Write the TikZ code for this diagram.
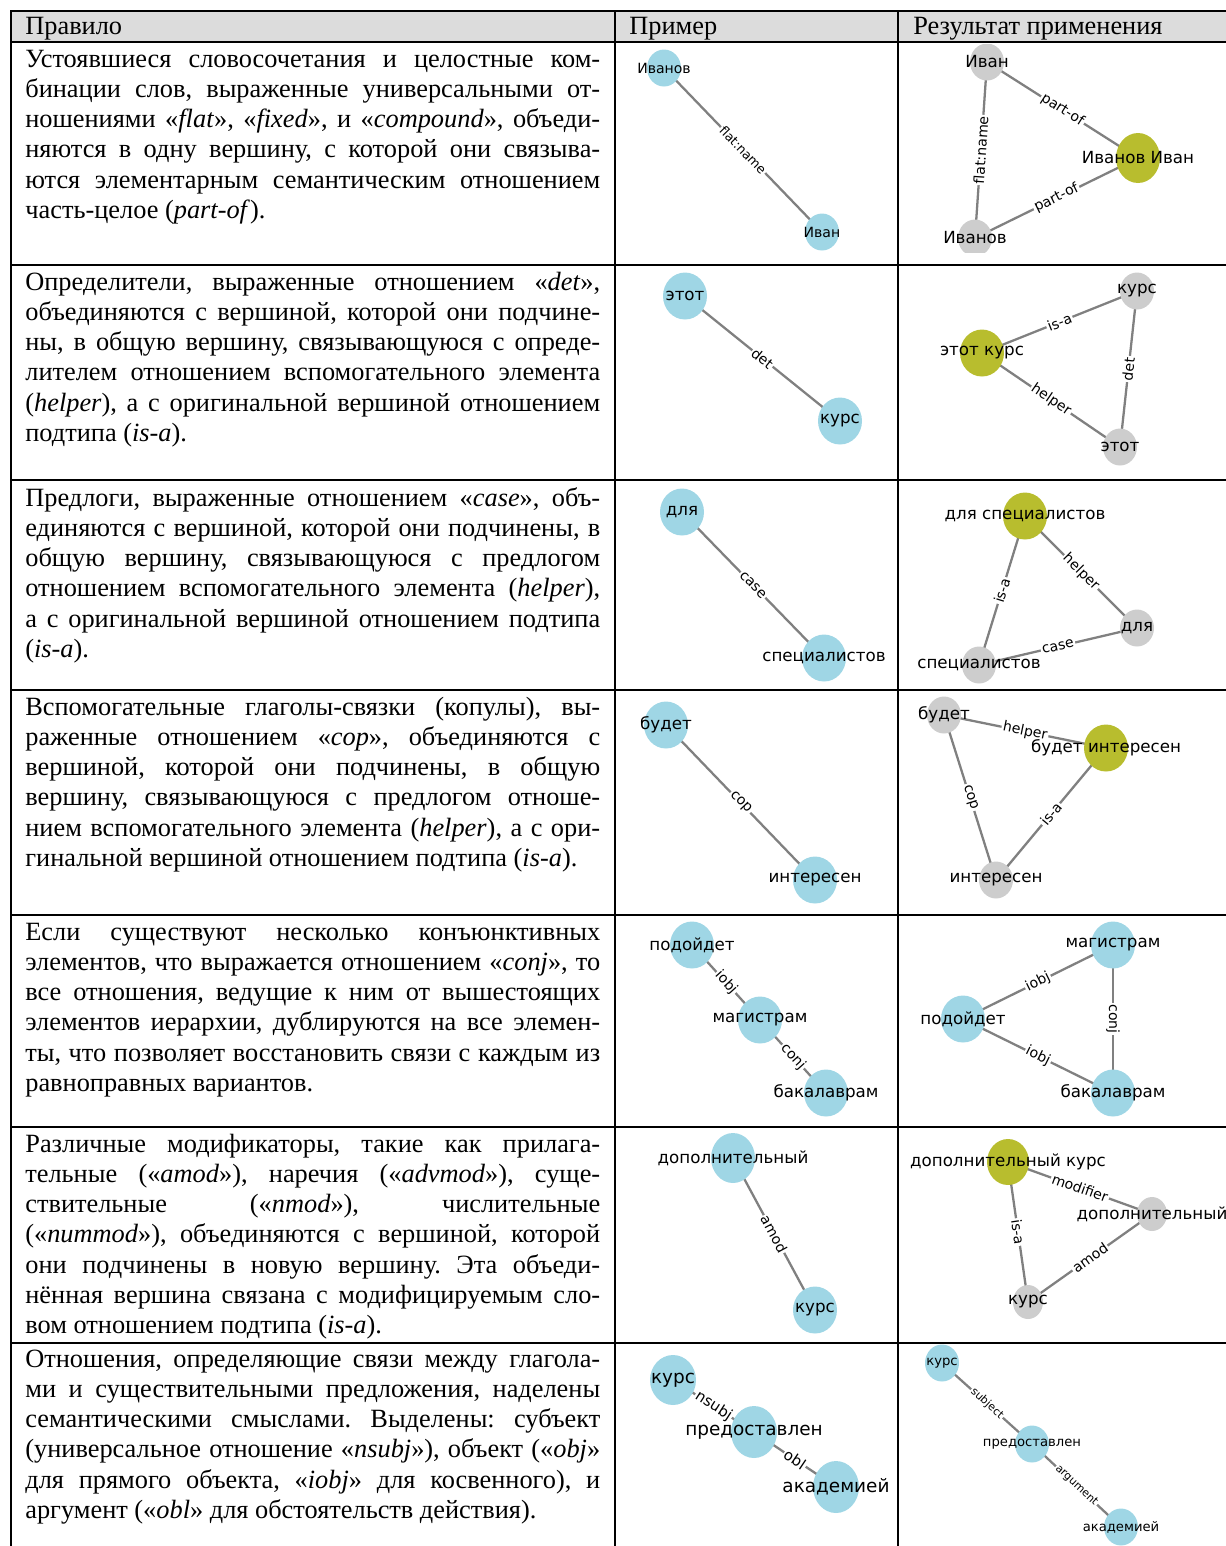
\documentclass[tikz,border=0pt]{standalone}
\usepackage{fontspec}
\setmainfont{Liberation Serif}
\newfontfamily\graphfont{DejaVu Sans}
\usetikzlibrary{shapes.geometric,backgrounds}

\hyphenpenalty=10000
\exhyphenpenalty=10000
\tolerance=10000
\frenchspacing
\newcommand{\vtext}[1]{\makebox[0pt]{#1}}

\begin{document}
\begin{tikzpicture}[x=0.02cm, y=-0.02cm]

  \definecolor{node_blue}{RGB}{159,214,229}
  \definecolor{node_gray}{RGB}{205,205,205}
  \definecolor{node_olive}{RGB}{184,189,46}
  \definecolor{edge_gray}{RGB}{128,128,128}
  \definecolor{head_gray}{RGB}{220,220,220}

  \tikzstyle{vertex} = [ellipse, inner sep=0pt, minimum width=0.88cm, minimum height=0.94cm, font=\graphfont\fontsize{9.5}{11}\selectfont]
  \tikzstyle{small vertex} = [vertex, minimum width=0.68cm, minimum height=0.74cm]
  \tikzstyle{link} = [draw=edge_gray, line width=1.3pt]
  \tikzstyle{rel} = [midway, sloped, fill=white, inner sep=0.8pt, font=\graphfont\fontsize{8}{9}\selectfont]
  \tikzstyle{ruletext} = [anchor=base west, inner sep=0pt, text width=11.5cm, align=justify, font=\fontsize{15}{17.24}\selectfont]
  \tikzstyle{headtext} = [anchor=base west, inner sep=0pt, font=\fontsize{15}{17.24}\selectfont]
  \tikzstyle{grid} = [line width=1.1pt]

  \useasboundingbox (0,0) rectangle (1226,1546);

  % table
  \fill[head_gray] (11,11) rectangle (1226,42);
  \draw[grid] (1226,11) -- (11,11) -- (11,1546);
  \draw[grid] (615,11) -- (615,1546);
  \draw[grid] (898,11) -- (898,1546);
  \draw[grid] (11,42) -- (1226,42);
  \draw[grid] (11,265) -- (1226,265);
  \draw[grid] (11,480) -- (1226,480);
  \draw[grid] (11,690) -- (1226,690);
  \draw[grid] (11,915) -- (1226,915);
  \draw[grid] (11,1127) -- (1226,1127);
  \draw[grid] (11,1343) -- (1226,1343);

  \node[headtext] (h_rule) at (25,34) {Правило};
  \node[headtext] (h_example) at (629,34) {Пример};
  \node[headtext] (h_result) at (913,34) {Результат применения};

  \node[ruletext] (t1) at (25,67) {Устоявшиеся словосочетания и целостные ком-\linebreak
    бинации слов, выраженные универсальными от-\linebreak
    ношениями «\textit{flat}», «\textit{fixed}», и «\textit{compound}», объеди-\linebreak
    няются в одну вершину, с которой они связыва-\linebreak
    ются элементарным семантическим отношением\linebreak
    часть-целое (\textit{part-of}).};
  \node[ruletext] (t2) at (25,290) {Определители, выраженные отношением «\textit{det}»,\linebreak
    объединяются с вершиной, которой они подчине-\linebreak
    ны, в общую вершину, связывающуюся с опреде-\linebreak
    лителем отношением вспомогательного элемента\linebreak
    (\textit{helper}), а с оригинальной вершиной отношением\linebreak
    подтипа (\textit{is-a}).};
  \node[ruletext] (t3) at (25,506) {Предлоги, выраженные отношением «\textit{case}», объ-\linebreak
    единяются с вершиной, которой они подчинены, в\linebreak
    общую вершину, связывающуюся с предлогом\linebreak
    отношением вспомогательного элемента (\textit{helper}),\linebreak
    а с оригинальной вершиной отношением подтипа\linebreak
    (\textit{is-a}).};
  \node[ruletext] (t4) at (25,715) {Вспомогательные глаголы-связки (копулы), вы-\linebreak
    раженные отношением «\textit{cop}», объединяются с\linebreak
    вершиной, которой они подчинены, в общую\linebreak
    вершину, связывающуюся с предлогом отноше-\linebreak
    нием вспомогательного элемента (\textit{helper}), а с ори-\linebreak
    гинальной вершиной отношением подтипа (\textit{is-a}).};
  \node[ruletext] (t5) at (25,940) {Если существуют несколько конъюнктивных\linebreak
    элементов, что выражается отношением «\textit{conj}», то\linebreak
    все отношения, ведущие к ним от вышестоящих\linebreak
    элементов иерархии, дублируются на все элемен-\linebreak
    ты, что позволяет восстановить связи с каждым из\linebreak
    равноправных вариантов.};
  \node[ruletext] (t6) at (25,1152) {Различные модификаторы, такие как прилага-\linebreak
    тельные («\textit{amod}»), наречия («\textit{advmod}»), суще-\linebreak
    ствительные («\textit{nmod}»), числительные\linebreak
    («\textit{nummod}»), объединяются с вершиной, которой\linebreak
    они подчинены в новую вершину. Эта объеди-\linebreak
    нённая вершина связана с модифицируемым сло-\linebreak
    вом отношением подтипа (\textit{is-a}).};
  \node[ruletext] (t7) at (25,1367) {Отношения, определяющие связи между глагола-\linebreak
    ми и существительными предложения, наделены\linebreak
    семантическими смыслами. Выделены: субъект\linebreak
    (универсальное отношение «\textit{nsubj}»), объект («\textit{obj}»\linebreak
    для прямого объекта, «\textit{iobj}» для косвенного), и\linebreak
    аргумент («\textit{obl}» для обстоятельств действия).};

  % row 1
  \begin{scope}
    \clip (637,48) rectangle (897,251);
    \node[small vertex, fill=node_blue, font=\graphfont\fontsize{8}{9}\selectfont] (e1_ivanov) at (664,68) {\vtext{Иванов}};
    \node[small vertex, fill=node_blue, font=\graphfont\fontsize{8}{9}\selectfont] (e1_ivan) at (822,232) {\vtext{Иван}};
    \begin{scope}[on background layer]
      \draw[link] (e1_ivanov.center) -- node[rel, font=\graphfont\fontsize{7.2}{8}\selectfont] {flat:name} (e1_ivan.center);
    \end{scope}
  \end{scope}
  \begin{scope}
    \clip (900,44) rectangle (1226,252);
    \node[small vertex, fill=node_gray] (r1_ivan) at (987,62) {\vtext{Иван}};
    \node[vertex, fill=node_olive, minimum height=1cm] (r1_full) at (1138,158) {\vtext{Иванов Иван}};
    \node[small vertex, fill=node_gray] (r1_ivanov) at (975,238) {\vtext{Иванов}};
    \begin{scope}[on background layer]
      \draw[link] (r1_ivan.center) -- node[rel] {part-of} (r1_full.center);
      \draw[link] (r1_ivanov.center) -- node[rel] {part-of} (r1_full.center);
      \draw[link] (r1_ivan.center) -- node[rel] {flat:name} (r1_ivanov.center);
    \end{scope}
  \end{scope}

  % row 2
  \node[vertex, fill=node_blue] (e2_etot) at (685,296) {\vtext{этот}};
  \node[vertex, fill=node_blue] (e2_kurs) at (840,421) {\vtext{курс}};
  \node[small vertex, fill=node_gray] (r2_kurs) at (1137,291) {\vtext{курс}};
  \node[vertex, fill=node_olive] (r2_full) at (982,353) {\vtext{этот курс}};
  \node[small vertex, fill=node_gray] (r2_etot) at (1120,447) {\vtext{этот}};
  \begin{scope}[on background layer]
    \draw[link] (e2_etot.center) -- node[rel] {det} (e2_kurs.center);
    \draw[link] (r2_full.center) -- node[rel] {is-a} (r2_kurs.center);
    \draw[link] (r2_full.center) -- node[rel] {helper} (r2_etot.center);
    \draw[link] (r2_kurs.center) -- node[rel] {det} (r2_etot.center);
  \end{scope}

  % row 3
  \node[vertex, fill=node_blue] (e3_dlya) at (682,512) {\vtext{для}};
  \node[vertex, fill=node_blue] (e3_spec) at (824,658) {\vtext{специалистов}};
  \node[vertex, fill=node_olive] (r3_full) at (1025,516) {\vtext{для специалистов}};
  \node[small vertex, fill=node_gray] (r3_dlya) at (1137,628) {\vtext{для}};
  \node[small vertex, fill=node_gray] (r3_spec) at (979,665) {\vtext{специалистов}};
  \begin{scope}[on background layer]
    \draw[link] (e3_dlya.center) -- node[rel] {case} (e3_spec.center);
    \draw[link] (r3_full.center) -- node[rel] {helper} (r3_dlya.center);
    \draw[link] (r3_full.center) -- node[rel] {is-a} (r3_spec.center);
    \draw[link] (r3_spec.center) -- node[rel] {case} (r3_dlya.center);
  \end{scope}

  % row 4
  \node[vertex, fill=node_blue] (e4_budet) at (666,725) {\vtext{будет}};
  \node[vertex, fill=node_blue] (e4_int) at (815,880) {\vtext{интересен}};
  \node[small vertex, fill=node_gray] (r4_budet) at (944,715) {\vtext{будет}};
  \node[vertex, fill=node_olive] (r4_full) at (1106,748) {\vtext{будет интересен}};
  \node[small vertex, fill=node_gray] (r4_int) at (996,880) {\vtext{интересен}};
  \begin{scope}[on background layer]
    \draw[link] (e4_budet.center) -- node[rel] {cop} (e4_int.center);
    \draw[link] (r4_budet.center) -- node[rel] {helper} (r4_full.center);
    \draw[link] (r4_budet.center) -- node[rel] {cop} (r4_int.center);
    \draw[link] (r4_int.center) -- node[rel] {is-a} (r4_full.center);
  \end{scope}

  % row 5
  \node[vertex, fill=node_blue] (e5_pod) at (692,945) {\vtext{подойдет}};
  \node[vertex, fill=node_blue] (e5_mag) at (760,1020) {\vtext{магистрам}};
  \node[vertex, fill=node_blue] (e5_bak) at (826,1093) {\vtext{бакалаврам}};
  \node[vertex, fill=node_blue] (r5_mag) at (1113,945) {\vtext{магистрам}};
  \node[vertex, fill=node_blue] (r5_pod) at (963,1019) {\vtext{подойдет}};
  \node[vertex, fill=node_blue] (r5_bak) at (1113,1093) {\vtext{бакалаврам}};
  \begin{scope}[on background layer]
    \draw[link] (e5_pod.center) -- node[rel] {iobj} (e5_mag.center);
    \draw[link] (e5_mag.center) -- node[rel] {conj} (e5_bak.center);
    \draw[link] (r5_pod.center) -- node[rel] {iobj} (r5_mag.center);
    \draw[link] (r5_pod.center) -- node[rel] {iobj} (r5_bak.center);
    \draw[link] (r5_mag.center) -- node[rel] {conj} (r5_bak.center);
  \end{scope}

  % row 6
  \node[vertex, fill=node_blue, minimum height=1cm] (e6_dop) at (733,1158) {\vtext{дополнительный}};
  \node[vertex, fill=node_blue] (e6_kurs) at (815,1310) {\vtext{курс}};
  \node[vertex, fill=node_olive, minimum width=0.84cm, minimum height=0.92cm] (r6_full) at (1008,1162) {\vtext{дополнительный курс}};
  \node[small vertex, fill=node_gray, minimum width=0.6cm, minimum height=0.68cm] (r6_dop) at (1152,1214) {\vtext{дополнительный}};
  \node[small vertex, fill=node_gray, minimum width=0.6cm, minimum height=0.68cm] (r6_kurs) at (1028,1302) {\vtext{курс}};
  \begin{scope}[on background layer]
    \draw[link] (e6_dop.center) -- node[rel] {amod} (e6_kurs.center);
    \draw[link] (r6_full.center) -- node[rel] {modifier} (r6_dop.center);
    \draw[link] (r6_full.center) -- node[rel] {is-a} (r6_kurs.center);
    \draw[link] (r6_kurs.center) -- node[rel] {amod} (r6_dop.center);
  \end{scope}

  % row 7
  \node[vertex, fill=node_blue, minimum width=0.92cm, minimum height=1cm, font=\graphfont\fontsize{10.5}{12}\selectfont] (e7_kurs) at (673,1380) {\vtext{курс}};
  \node[vertex, fill=node_blue, minimum width=0.92cm, minimum height=1.04cm, font=\graphfont\fontsize{10.5}{12}\selectfont] (e7_pred) at (754,1432) {\vtext{предоставлен}};
  \node[vertex, fill=node_blue, minimum width=0.92cm, minimum height=1.04cm, font=\graphfont\fontsize{10.5}{12}\selectfont] (e7_acad) at (836,1487) {\vtext{академией}};
  \node[small vertex, fill=node_blue, font=\graphfont\fontsize{7.5}{9}\selectfont] (r7_kurs) at (942,1363) {\vtext{курс}};
  \node[small vertex, fill=node_blue, font=\graphfont\fontsize{7.5}{9}\selectfont] (r7_pred) at (1032,1444) {\vtext{предоставлен}};
  \node[small vertex, fill=node_blue, font=\graphfont\fontsize{7.5}{9}\selectfont] (r7_acad) at (1121,1527) {\vtext{академией}};
  \begin{scope}[on background layer]
    \draw[link] (e7_kurs.center) -- node[rel, font=\graphfont\fontsize{8.5}{9}\selectfont] {nsubj} (e7_pred.center);
    \draw[link] (e7_pred.center) -- node[rel, font=\graphfont\fontsize{8.5}{9}\selectfont] {obl} (e7_acad.center);
    \draw[link] (r7_kurs.center) -- node[rel, font=\graphfont\fontsize{6.2}{7}\selectfont] {subject} (r7_pred.center);
    \draw[link] (r7_pred.center) -- node[rel, font=\graphfont\fontsize{6.2}{7}\selectfont] {argument} (r7_acad.center);
  \end{scope}

\end{tikzpicture}
\end{document}
